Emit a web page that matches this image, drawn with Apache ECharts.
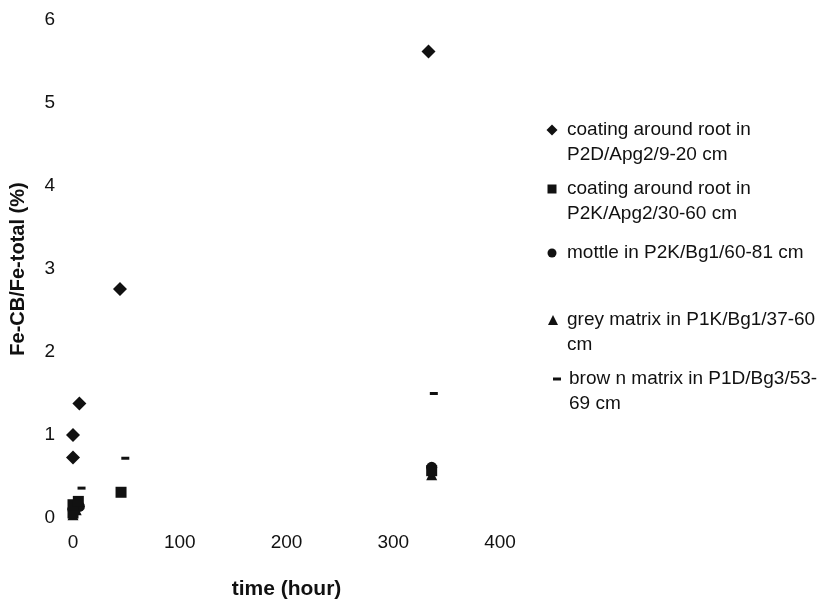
<!DOCTYPE html>
<html>
<head>
<meta charset="utf-8">
<script src="https://cdn.jsdelivr.net/npm/echarts@6/dist/echarts.min.js"></script>
<style>html,body{margin:0;padding:0;background:#fff}#c{width:831px;height:605px}</style>
</head>
<body>
<div id="c"></div>
<script>
// Data: [time (hour), Fe-CB/Fe-total (%)]
const seriesNames = [
  'coating around root in\nP2D/Apg2/9-20 cm',
  'coating around root in\nP2K/Apg2/30-60 cm',
  'mottle in P2K/Bg1/60-81 cm',
  'grey matrix in P1K/Bg1/37-60\ncm',
  'brow n matrix in P1D/Bg3/53-\n69 cm'
];
const coatingP2D = [[0, 0.73], [0, 1.0], [6, 1.38], [44, 2.76], [333, 5.62]];
const coatingP2K = [[0, 0.06], [0, 0.16], [5, 0.2], [45, 0.31], [336, 0.57]];
const mottleP2K = [[0, 0.1], [6, 0.14], [336, 0.61]];
const greyMatrixP1K = [[0, 0.04], [3, 0.1], [336, 0.52]];
const brownMatrixP1D = [[8, 0.36], [49, 0.72], [338, 1.5]];
const xTicks = [0, 100, 200, 300, 400];
const yTicks = [0, 1, 2, 3, 4, 5, 6];

const FONT = 'Liberation Sans';
const INK = '#111';
const dashPath = 'path://M0,0H8V3H0Z';

const legendTops = [92.5, 151.5, 240.5, 282.5, 341.5];
const legendIcons = ['diamond', 'rect', 'circle', 'triangle', dashPath];
const legendIconW = [11, 9, 9, 10, 8];
const legendIconH = [11, 9, 9, 10, 3];
const legendIconCX = [552, 552, 552, 553, 557];
const textStartX = [567, 567, 567, 567, 569];
const LH = 25;

const chart = echarts.init(document.getElementById('c'), null, {renderer: 'canvas'});
const legends = seriesNames.map((n, i) => {
  const twoLines = n.indexOf('\n') >= 0;
  const left = legendIconCX[i] - legendIconW[i] / 2;
  const padLeft = textStartX[i] - (left + legendIconW[i] + 5);
  return {
    data: [{name: n, icon: legendIcons[i]}],
    left: left, top: legendTops[i],
    padding: 0,
    itemWidth: legendIconW[i], itemHeight: legendIconH[i],
    selectedMode: false,
    formatter: (name) => (twoLines ? ' \n' : '') + name,
    textStyle: {
      fontFamily: FONT, fontSize: 19, color: INK, lineHeight: LH,
      padding: [0, 0, 0, padLeft]
    }
  };
});

const mk = (name, data, symbol, size) => ({
  name, type: 'scatter', data, symbol, symbolSize: size,
  itemStyle: {color: INK, opacity: 1}, emphasis: {disabled: true}
});

chart.setOption({
  animation: false,
  backgroundColor: '#fff',
  grid: {left: 69, right: 331, top: 20, bottom: 85, containLabel: false},
  legend: legends,
  xAxis: {
    type: 'value', min: xTicks[0], max: xTicks[xTicks.length - 1], interval: 100,
    name: 'time (hour)', nameLocation: 'middle', nameGap: 61,
    nameTextStyle: {fontFamily: FONT, fontSize: 21, fontWeight: 'bold', color: INK},
    axisLine: {show: false}, axisTick: {show: false}, splitLine: {show: false},
    axisLabel: {fontFamily: FONT, fontSize: 19, color: INK, margin: 15}
  },
  yAxis: {
    type: 'value', min: yTicks[0], max: yTicks[yTicks.length - 1], interval: 1,
    name: 'Fe-CB/Fe-total (%)', nameLocation: 'middle', nameGap: 45,
    nameTextStyle: {fontFamily: FONT, fontSize: 20, fontWeight: 'bold', color: INK},
    axisLine: {show: false}, axisTick: {show: false}, splitLine: {show: false},
    axisLabel: {fontFamily: FONT, fontSize: 19, color: INK, margin: 18}
  },
  series: [
    mk(seriesNames[2], mottleP2K, 'circle', 11),
    mk(seriesNames[3], greyMatrixP1K, 'triangle', 11),
    mk(seriesNames[1], coatingP2K, 'rect', 11),
    mk(seriesNames[0], coatingP2D, 'diamond', 14),
    mk(seriesNames[4], brownMatrixP1D, dashPath, [8, 3])
  ]
});
</script>
</body>
</html>
